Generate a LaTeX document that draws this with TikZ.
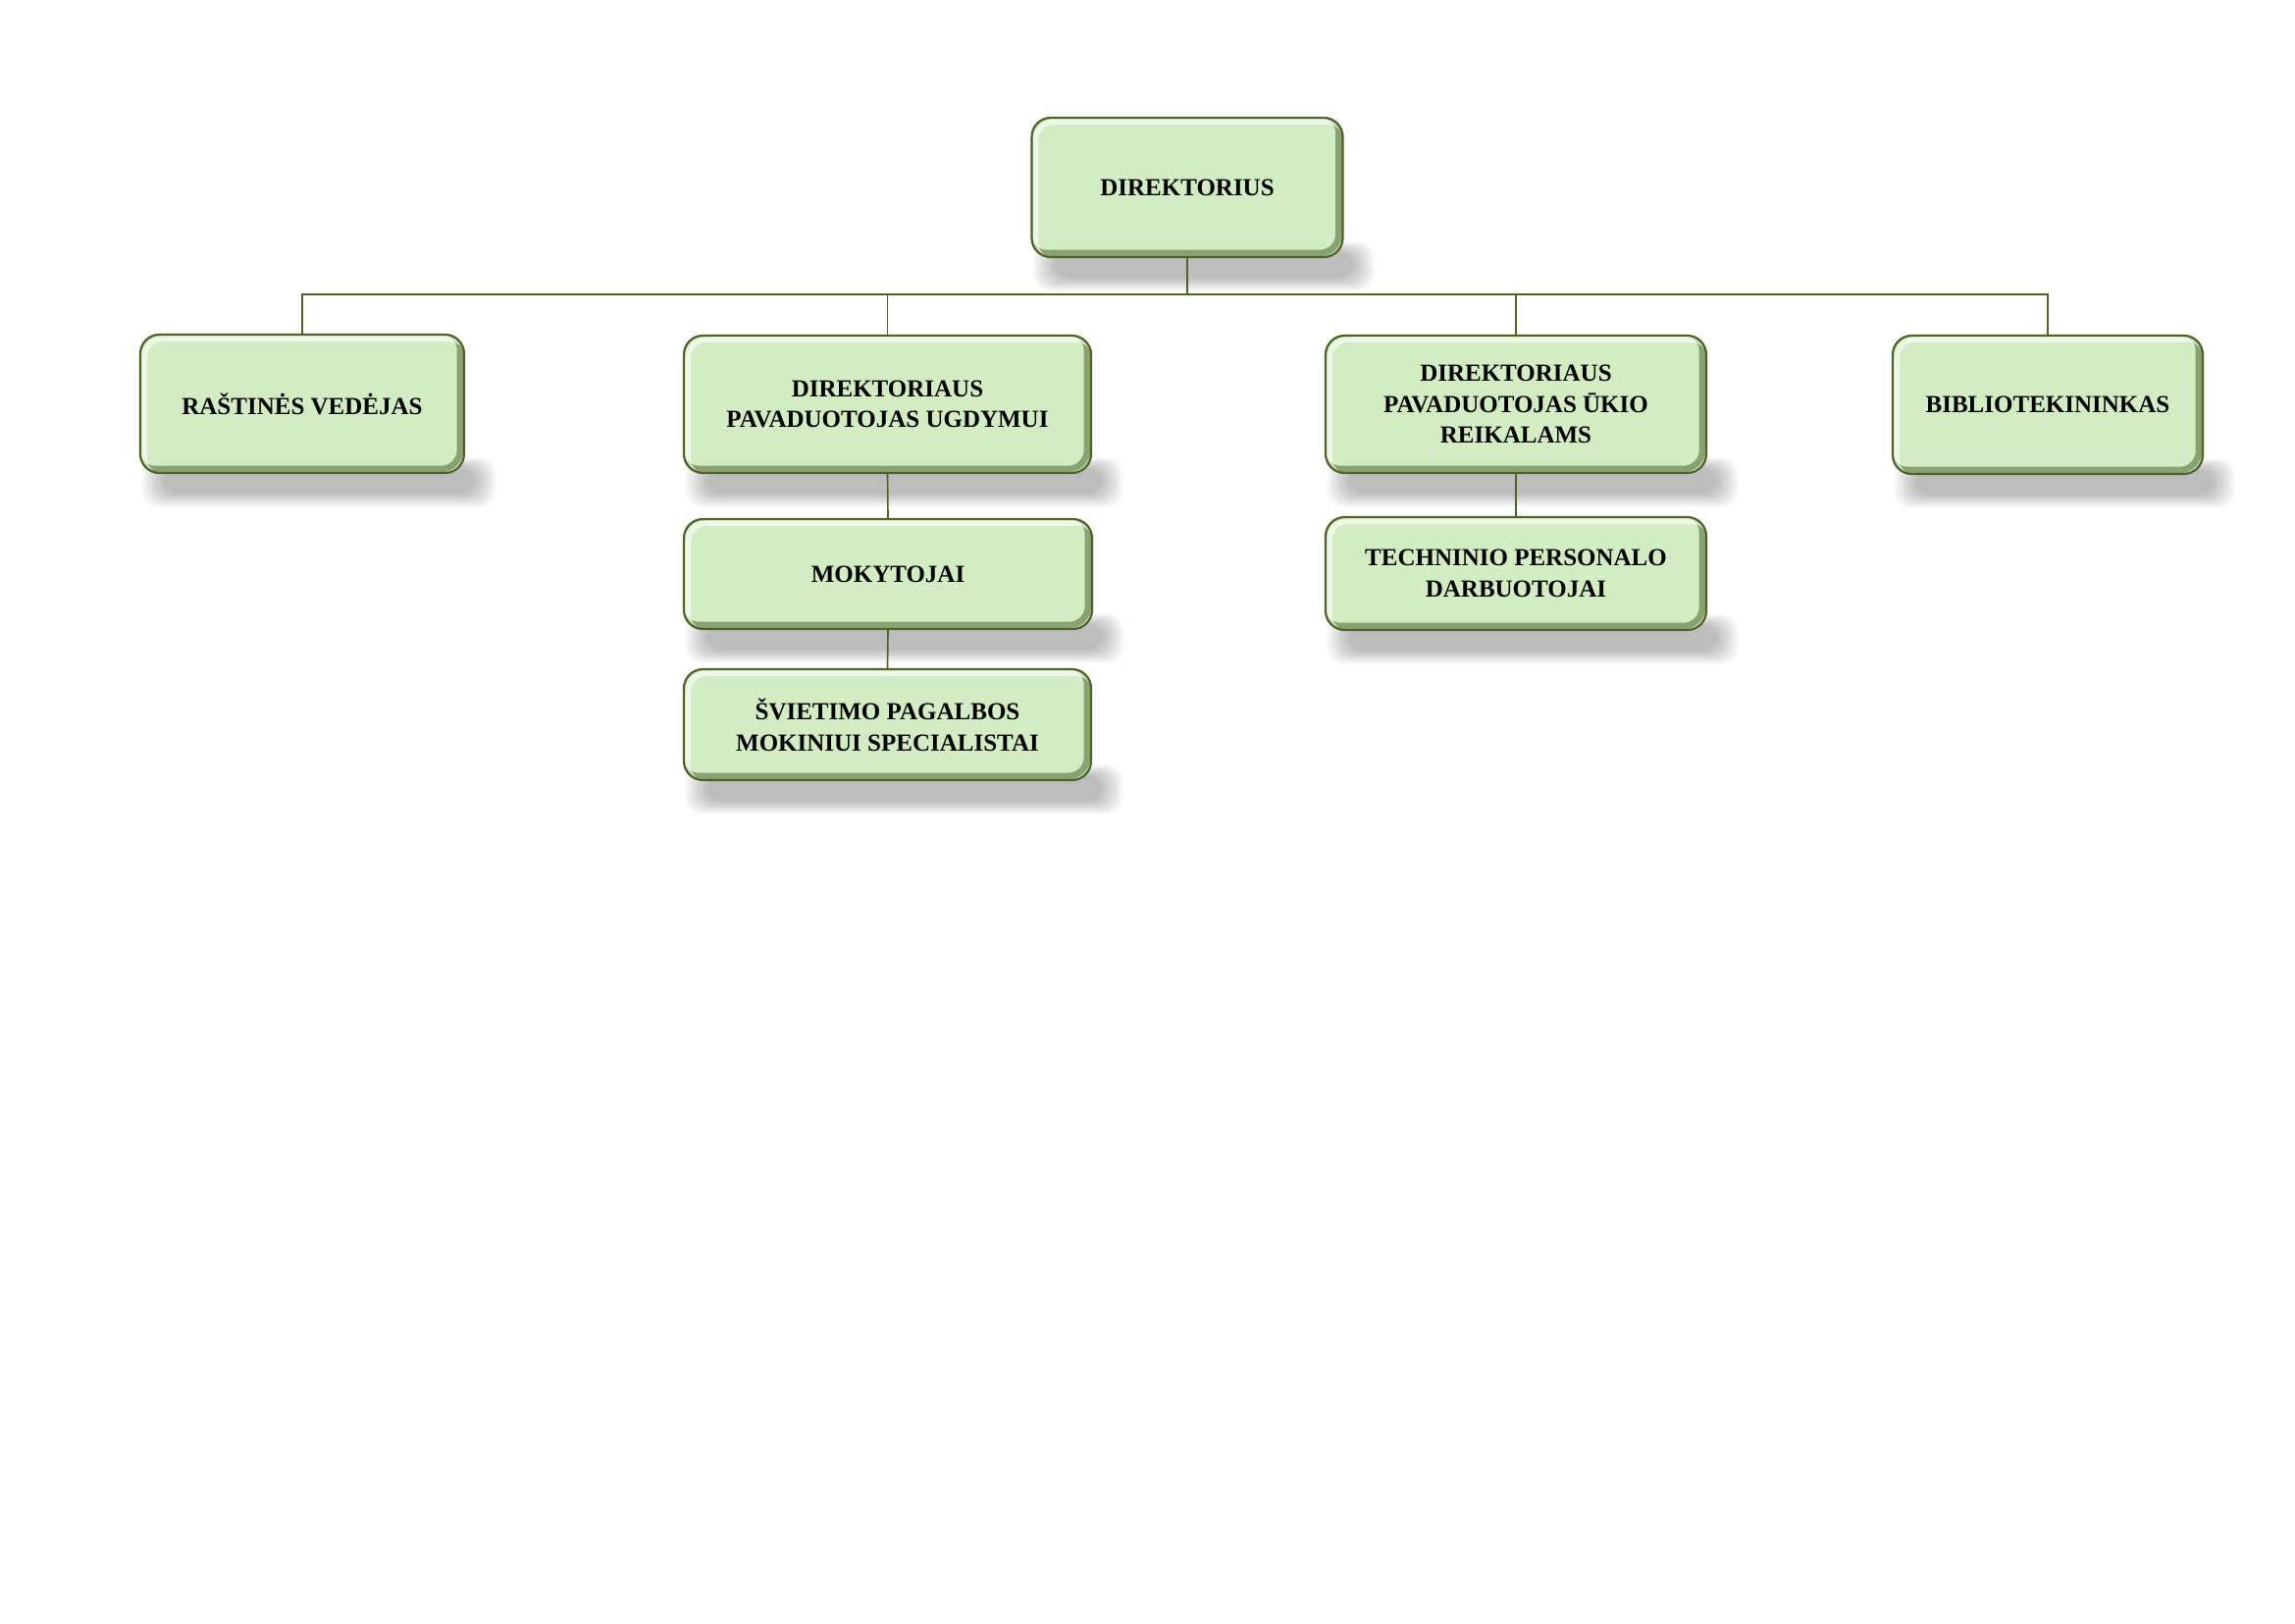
\documentclass[tikz,border=0pt]{standalone}
\usepackage{fontspec}
\setmainfont{Liberation Serif}
\usetikzlibrary{calc}
\definecolor{boxfill}{HTML}{D3ECC3}
\definecolor{boxline}{HTML}{4F6228}
\definecolor{bevdark}{HTML}{3F5A22}
\pgfdeclarelayer{bg}
\pgfsetlayers{bg,main}
\begin{document}
\begin{tikzpicture}[x=0.36pt,y=-0.36pt,
  sz/.style 2 args={minimum width=#1*0.36pt, minimum height=#2*0.36pt},
  orgbox/.style={draw=boxline, line width=0.8pt, fill=boxfill, rounded corners=7pt,
    align=center, inner sep=0pt, font=\fontsize{9}{11.4}\selectfont\bfseries,
    path picture={
      \draw[bevdark, opacity=0.5, line width=2.4pt, rounded corners=7pt]
        ($(path picture bounding box.north west)+(-4,-4)$) rectangle ($(path picture bounding box.south east)+(-4,-4)$);
      \draw[white, opacity=0.6, line width=2pt, rounded corners=7pt]
        ($(path picture bounding box.north west)+(4,4)$) rectangle ($(path picture bounding box.south east)+(4,4)$);
    }},
  link/.style={draw=boxline, line width=0.6pt}]
\useasboundingbox (0,0) rectangle (2339,1654);

\node[orgbox, sz={317}{142}] (dir) at (1210,191) {DIREKTORIUS};
\node[orgbox, sz={330}{141}] (rast) at (308,411.5) {RAŠTINĖS VEDĖJAS};
\node[orgbox, sz={415}{140}] (ugd) at (904.5,412) {DIREKTORIAUS\\PAVADUOTOJAS UGDYMUI};
\node[orgbox, sz={416}{112}] (mok) at (905,585) {MOKYTOJAI};
\node[orgbox, sz={415}{113}] (svi) at (904.5,738.5) {ŠVIETIMO PAGALBOS\\MOKINIUI SPECIALISTAI};
\node[orgbox, sz={388}{140}] (uk) at (1545,412) {DIREKTORIAUS\\PAVADUOTOJAS ŪKIO\\REIKALAMS};
\node[orgbox, sz={388}{115}] (tech) at (1545,584.5) {TECHNINIO PERSONALO\\DARBUOTOJAI};
\node[orgbox, sz={316}{141}] (bib) at (2087,412.5) {BIBLIOTEKININKAS};

\coordinate (busy) at (0,300);
\draw[link] (dir.south) -- (dir.south |- busy);
\draw[link] (rast.north) |- (bib.north |- busy) -- (bib.north);
\draw[link] (ugd.north) -- (ugd.north |- busy);
\draw[link] (uk.north) -- (uk.north |- busy);
\draw[link] (ugd.south) -- (mok.north);
\draw[link] (mok.south) -- (svi.north);
\draw[link] (uk.south) -- (tech.north);

\begin{pgfonlayer}{bg}
\fill[white] (0,0) rectangle (2339,1654);
\foreach \n in {dir,rast,ugd,mok,svi,uk,tech,bib}{
  \foreach \i in {0,...,9}{
    \fill[black, opacity=0.026, rounded corners=6pt]
      ($(\n.south west)+(24-2.4*\i,-6-1.2*\i)$) rectangle ($(\n.south east)+(10+2.4*\i,20+1.5*\i)$);
  }
}
\end{pgfonlayer}
\end{tikzpicture}
\end{document}
